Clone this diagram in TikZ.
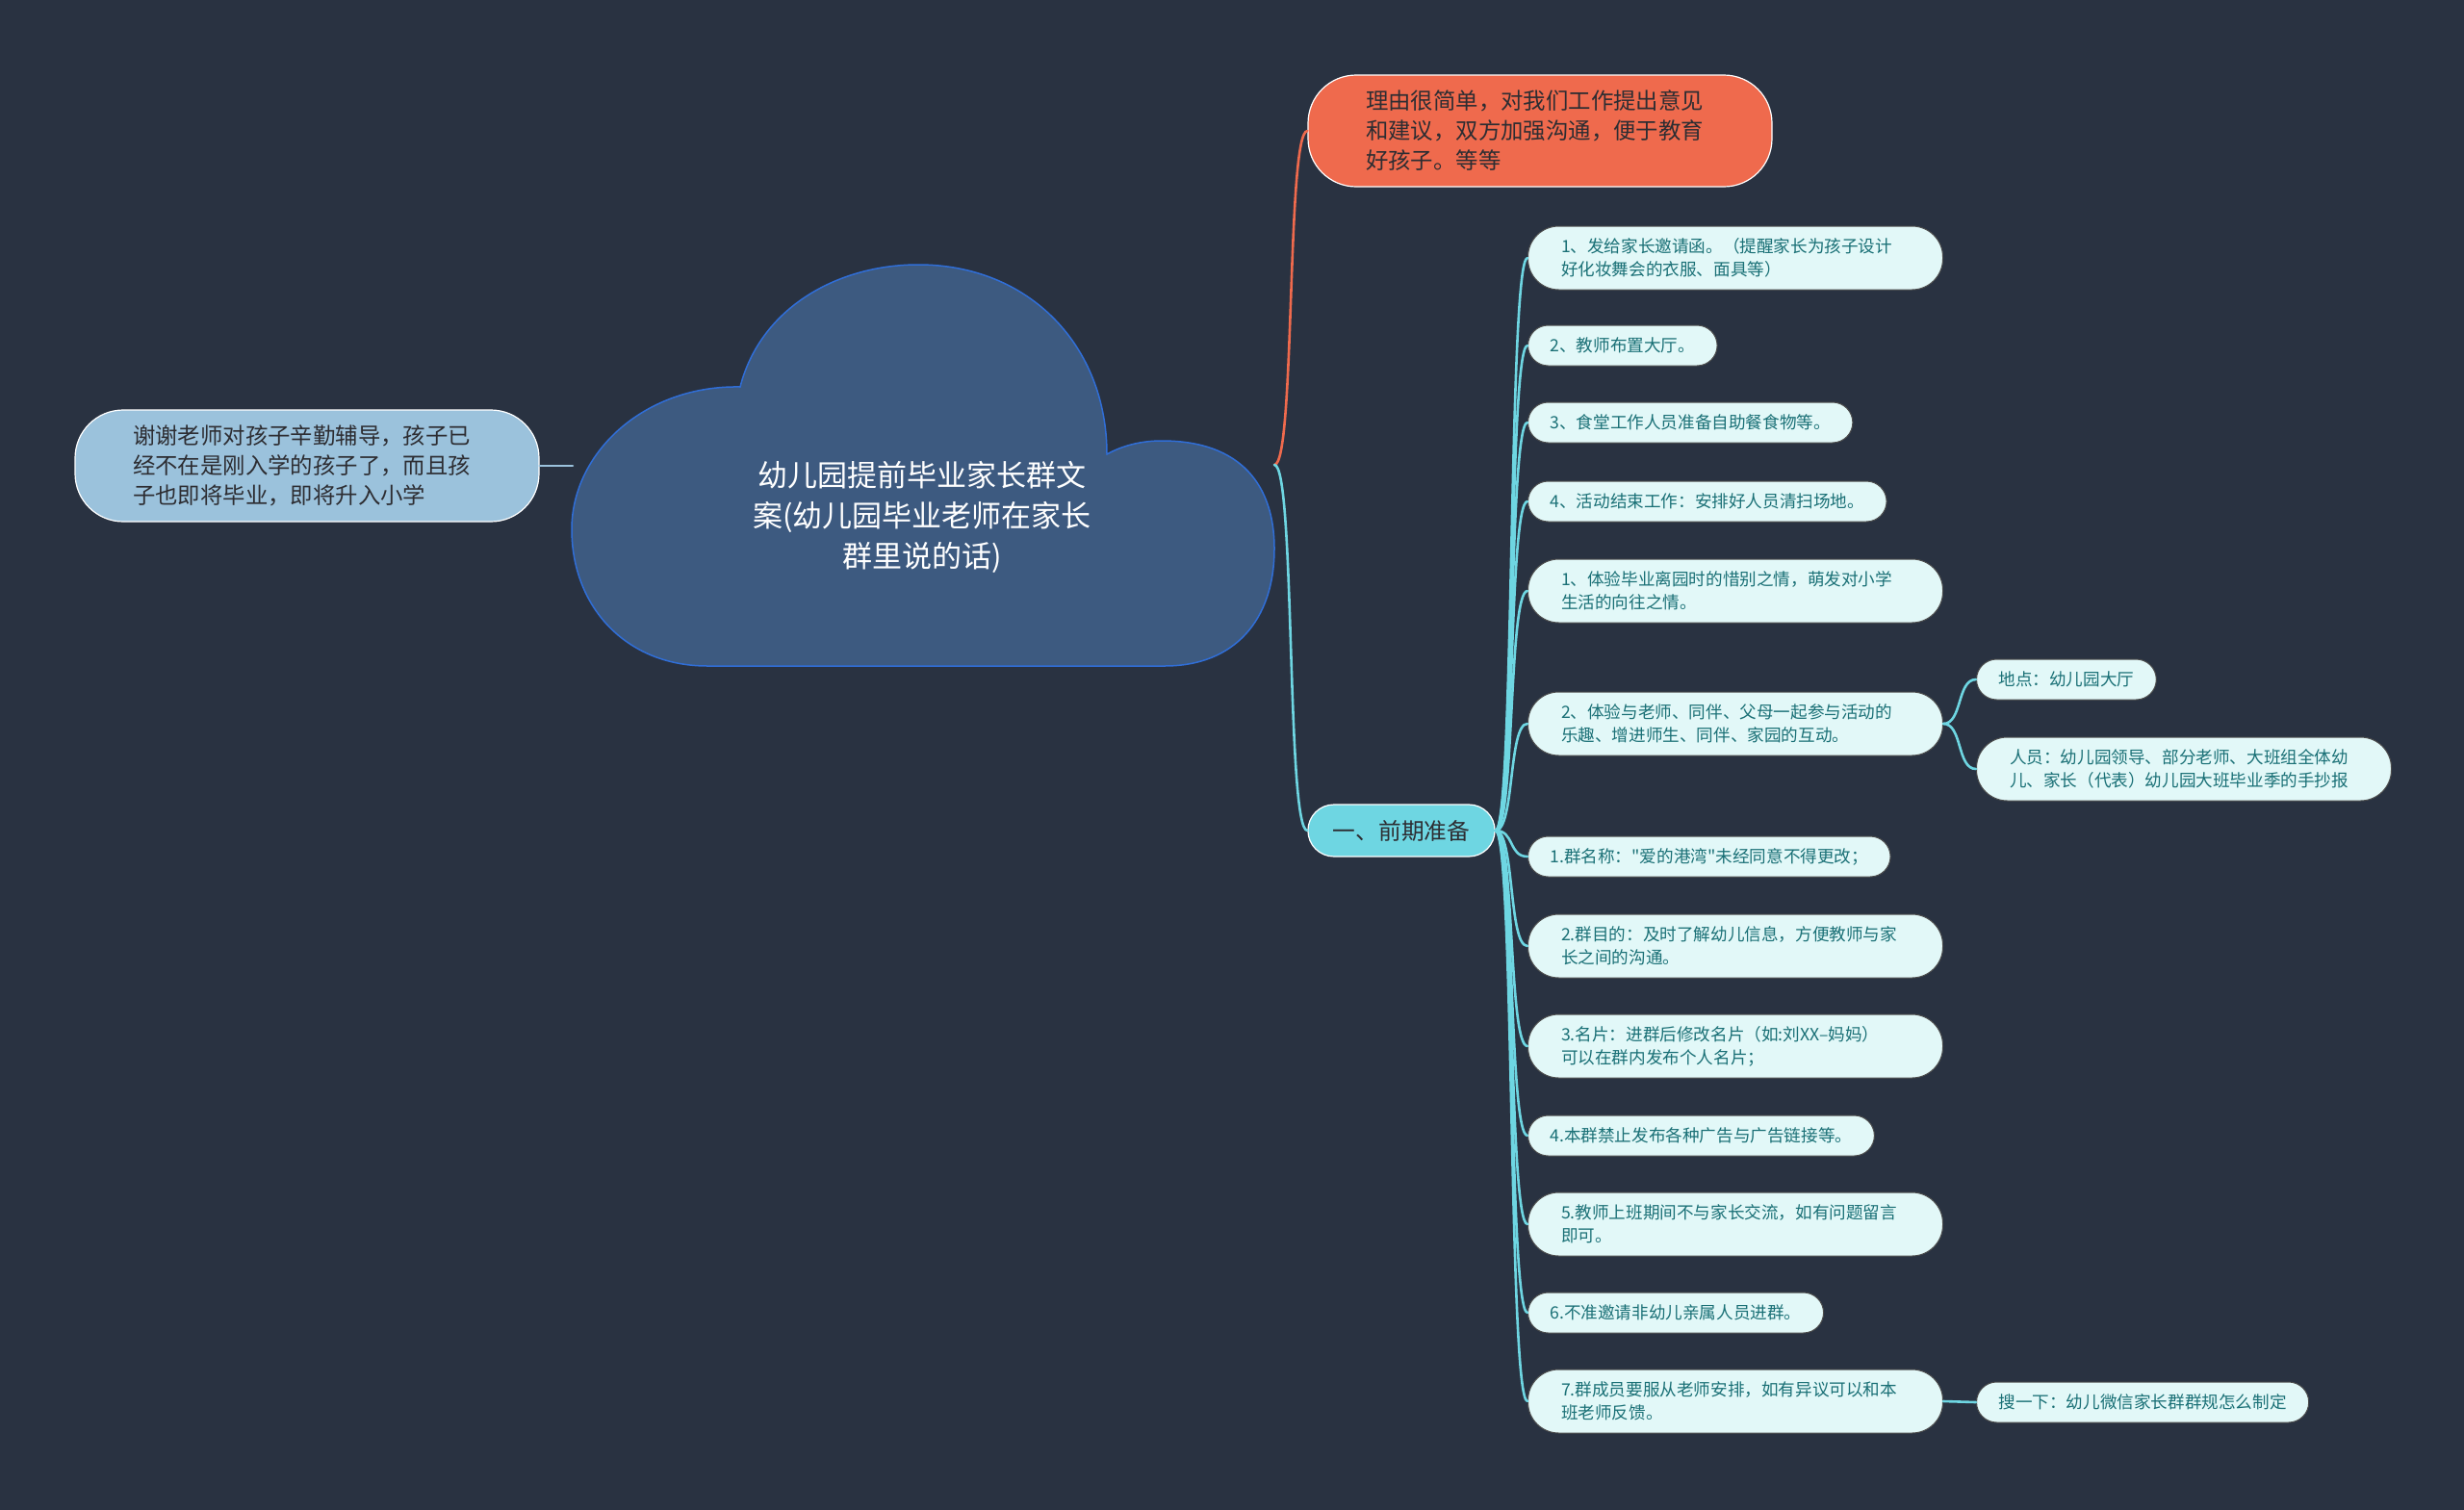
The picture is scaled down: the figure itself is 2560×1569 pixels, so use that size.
\documentclass[tikz,border=0pt]{standalone}
\usepackage{fontspec}
\setmainfont{Noto Sans CJK SC}[Ligatures=TeXOff]
\definecolor{night}{RGB}{41,50,65}
\definecolor{cloudfill}{RGB}{61,90,128}
\definecolor{cloudline}{RGB}{48,110,215}
\definecolor{sky}{RGB}{155,194,220}
\definecolor{coral}{RGB}{239,106,77}
\definecolor{aqua}{RGB}{110,214,226}
\definecolor{mint}{RGB}{226,248,248}
\definecolor{leafink}{RGB}{26,112,118}
\definecolor{ink}{RGB}{45,45,50}
\tikzset{
  topic/.style={draw=white,line width=1.2pt,fill=#1,rounded corners=50pt,text=ink,
    align=left,text width=362pt,inner xsep=60pt,minimum height=116pt,
    font=\fontsize{23.4}{31}\selectfont},
  topic/.default=sky,
  stage/.style={draw=white,line width=1.2pt,fill=aqua,rounded corners=27pt,text=ink,
    inner xsep=26pt,minimum height=54pt,font=\fontsize{23.7}{30}\selectfont},
  leaf/.style={draw=black!70,line width=1pt,fill=mint,text=leafink,rounded corners=21pt,
    inner xsep=23pt,minimum height=42pt,anchor=west,align=left,
    font=\fontsize{17.6}{24}\selectfont},
  longleaf/.style={leaf,text width=362pt,inner xsep=34.5pt,minimum height=66pt,rounded corners=32pt},
  branch/.style={line width=2.6pt,draw=#1,line cap=round},
  branch/.default=aqua,
}
\begin{document}
\begin{tikzpicture}[x=1pt,y=-1pt]
  \fill[night] (0,0) rectangle (2560,1569);
  % cloud
  \filldraw[fill=cloudfill,draw=cloudline,line width=1.5pt]
    (769,402) .. controls (790,320) and (870,275) .. (954,275)
    .. controls (1070,275) and (1150,360) .. (1150,472)
    .. controls (1168,462) and (1188,458) .. (1207,458)
    .. controls (1290,458) and (1324,505) .. (1324,570)
    .. controls (1324,645) and (1282,692) .. (1210,692)
    -- (735,692)
    .. controls (650,692) and (594,630) .. (594,550)
    .. controls (594,470) and (670,400) .. (769,402) -- cycle;
  \node[font=\fontsize{31}{42}\selectfont,text=white,align=center] (title) at (958,537)
    {幼儿园提前毕业家长群文\\案(幼儿园毕业老师在家长\\群里说的话)};
  \coordinate (cloudL) at (595,484);
  \coordinate (cloudR) at (1324,483);

  \node[topic] (thanks) at (319,484)
    {谢谢老师对孩子辛勤辅导，孩子已\\经不在是刚入学的孩子了，而且孩\\子也即将毕业，即将升入小学};
  \node[topic=coral] (reason) at (1600,136)
    {理由很简单，对我们工作提出意见\\和建议，双方加强沟通，便于教育\\好孩子。等等};
  \node[stage] (prep) at (1456,863) {一、前期准备};

  \node[longleaf] (l1) at (1587,268) {1、发给家长邀请函。（提醒家长为孩子设计\\好化妆舞会的衣服、面具等）};
  \node[leaf] (l2) at (1587,359) {2、教师布置大厅。};
  \node[leaf] (l3) at (1587,439) {3、食堂工作人员准备自助餐食物等。};
  \node[leaf] (l4) at (1587,521) {4、活动结束工作：安排好人员清扫场地。};
  \node[longleaf] (l5) at (1587,614) {1、体验毕业离园时的惜别之情，萌发对小学\\生活的向往之情。};
  \node[longleaf] (l6) at (1587,752) {2、体验与老师、同伴、父母一起参与活动的\\乐趣、增进师生、同伴、家园的互动。};
  \node[leaf] (l7) at (1587,890) {1.群名称："爱的港湾"未经同意不得更改；};
  \node[longleaf] (l8) at (1587,983) {2.群目的：及时了解幼儿信息，方便教师与家\\长之间的沟通。};
  \node[longleaf] (l9) at (1587,1087) {3.名片：进群后修改名片（如:刘XX–妈妈）\\可以在群内发布个人名片；};
  \node[leaf] (l10) at (1587,1180) {4.本群禁止发布各种广告与广告链接等。};
  \node[longleaf] (l11) at (1587,1272) {5.教师上班期间不与家长交流，如有问题留言\\即可。};
  \node[leaf] (l12) at (1587,1364) {6.不准邀请非幼儿亲属人员进群。};
  \node[longleaf] (l13) at (1587,1456) {7.群成员要服从老师安排，如有异议可以和本\\班老师反馈。};

  \node[leaf] (place) at (2053,706) {地点：幼儿园大厅};
  \node[longleaf] (people) at (2053,799) {人员：幼儿园领导、部分老师、大班组全体幼\\儿、家长（代表）幼儿园大班毕业季的手抄报};
  \node[leaf] (search) at (2053,1457) {搜一下：幼儿微信家长群群规怎么制定};

  % connectors
  \draw[branch=sky] (cloudL) -- (thanks.east);
  \draw[branch=coral] (cloudR) .. controls +(22,0) and +(-22,0) .. (reason.west);
  \draw[branch] (cloudR) .. controls +(22,0) and +(-22,0) .. (prep.west);
  \foreach \n in {l1,l2,l3,l4,l5,l6,l7,l8,l9,l10,l11,l12,l13}
    \draw[branch] (prep.east) .. controls +(20,0) and +(-20,0) .. (\n.west);
  \draw[branch] (l6.east) .. controls +(20,0) and +(-20,0) .. (place.west);
  \draw[branch] (l6.east) .. controls +(20,0) and +(-20,0) .. (people.west);
  \draw[branch] (l13.east) -- (search.west);
\end{tikzpicture}
\end{document}
